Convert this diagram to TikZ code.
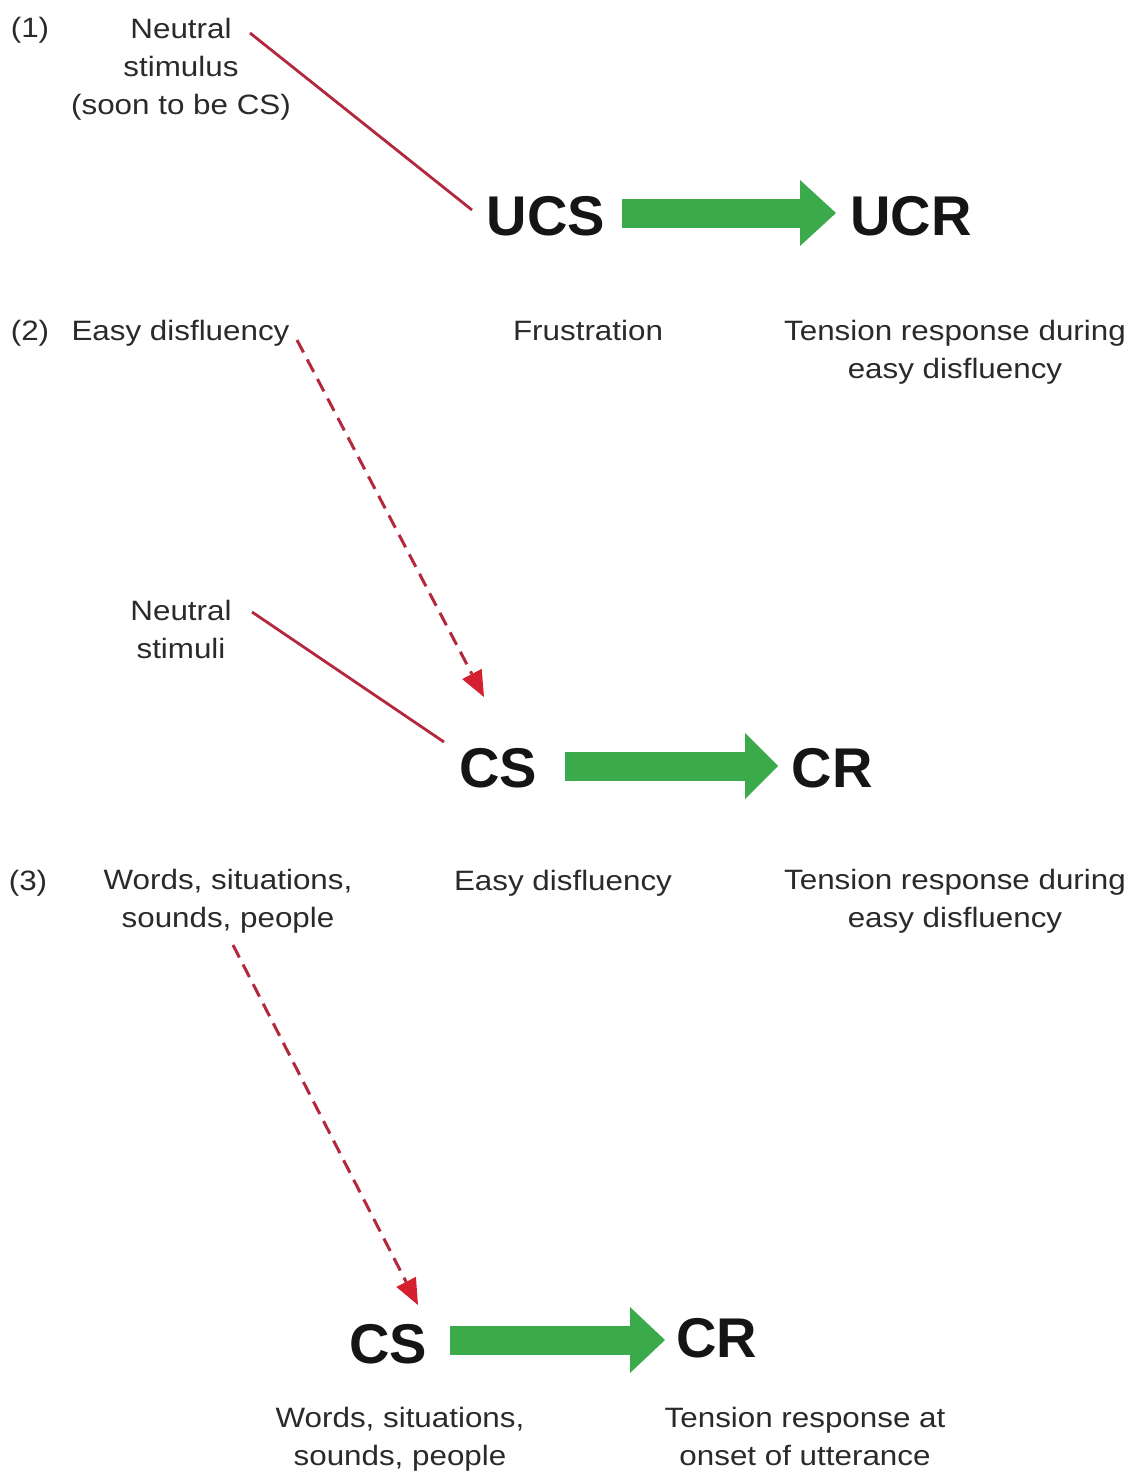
\documentclass[tikz,border=0pt]{standalone}
\usepackage{fontspec}
\setmainfont{Liberation Sans}
\newfontfamily\regfont{Liberation Sans}[FakeStretch=1.12]
\usetikzlibrary{arrows.meta}
\definecolor{txtgray}{HTML}{2A2A2A}
\definecolor{txtblack}{HTML}{151515}
\definecolor{linered}{HTML}{B3283C}
\definecolor{tipred}{HTML}{D42030}
\definecolor{arrgreen}{HTML}{3BAA4A}
\tikzset{
  reg/.style={font=\regfont\fontsize{28}{38}\selectfont, text=txtgray, align=center, inner sep=0pt},
  big/.style={font=\bfseries\fontsize{56}{60}\selectfont, text=txtblack, inner sep=0pt, anchor=base},
  redline/.style={draw=linered, line width=2.8pt},
  reddash/.style={draw=linered, line width=3pt, dash pattern=on 14pt off 8pt,
    -{Triangle[length=26pt,width=22pt,color=tipred,line width=0pt]}},
  garrow/.style={draw=arrgreen, line width=29pt,
    -{Triangle[length=#1,width=66pt,color=arrgreen,line width=0pt]}},
}
\begin{document}
\begin{tikzpicture}[x=1pt,y=-1pt]
\useasboundingbox[fill=white] (0,0) rectangle (1137,1472);
% row 1
\node[reg, anchor=base] (lab1) at (30,38) {(1)};
\node[reg] (ns1) at (181,69) {Neutral\\stimulus\\(soon to be CS)};
\node[big] (ucs) at (546,235) {UCS};
\node[big] (ucr) at (911,235) {UCR};
\coordinate (l1s) at (250,33);
\coordinate (l1e) at (472,210);
\draw[redline] (l1s) -- (l1e);
\coordinate (g1s) at (622,213);
\coordinate (g1e) at (836,213);
\draw[garrow=36pt] (g1s) -- (g1e);
% row 2
\node[reg, anchor=base] (lab2) at (30,340) {(2)};
\node[reg, anchor=base] (ed2) at (180.5,340) {Easy disfluency};
\node[reg, anchor=base] (fru) at (588,340) {Frustration};
\node[reg] (tr2) at (955,352.5) {Tension response during\\easy disfluency};
\coordinate (d2s) at (297,340);
\coordinate (d2e) at (484,697);
\draw[reddash] (d2s) -- (d2e);
\node[reg] (ns2) at (181,629) {Neutral\\stimuli};
\coordinate (l2s) at (252,612);
\coordinate (l2e) at (444,742);
\draw[redline] (l2s) -- (l2e);
\node[big] (cs2) at (498,787) {CS};
\node[big] (cr2) at (832,787) {CR};
\coordinate (g2s) at (565,766);
\coordinate (g2e) at (778,766);
\draw[garrow=33pt] (g2s) -- (g2e);
% row 3
\node[reg, anchor=base] (lab3) at (28,890) {(3)};
\node[reg] (wsp3) at (228,901.5) {Words, situations,\\sounds, people};
\node[reg, anchor=base] (ed3) at (563,890) {Easy disfluency};
\node[reg] (tr3) at (955,901.5) {Tension response during\\easy disfluency};
\coordinate (d3s) at (233,945);
\coordinate (d3e) at (418,1305);
\draw[reddash] (d3s) -- (d3e);
\node[big] (cs3) at (388,1363) {CS};
\node[big] (cr3) at (717,1357) {CR};
\coordinate (g3s) at (450,1340);
\coordinate (g3e) at (665,1340);
\draw[garrow=35pt] (g3s) -- (g3e);
\node[reg] (wsp4) at (400,1439) {Words, situations,\\sounds, people};
\node[reg] (tro4) at (805,1436) {Tension response at\\onset of utterance};
\end{tikzpicture}
\end{document}
